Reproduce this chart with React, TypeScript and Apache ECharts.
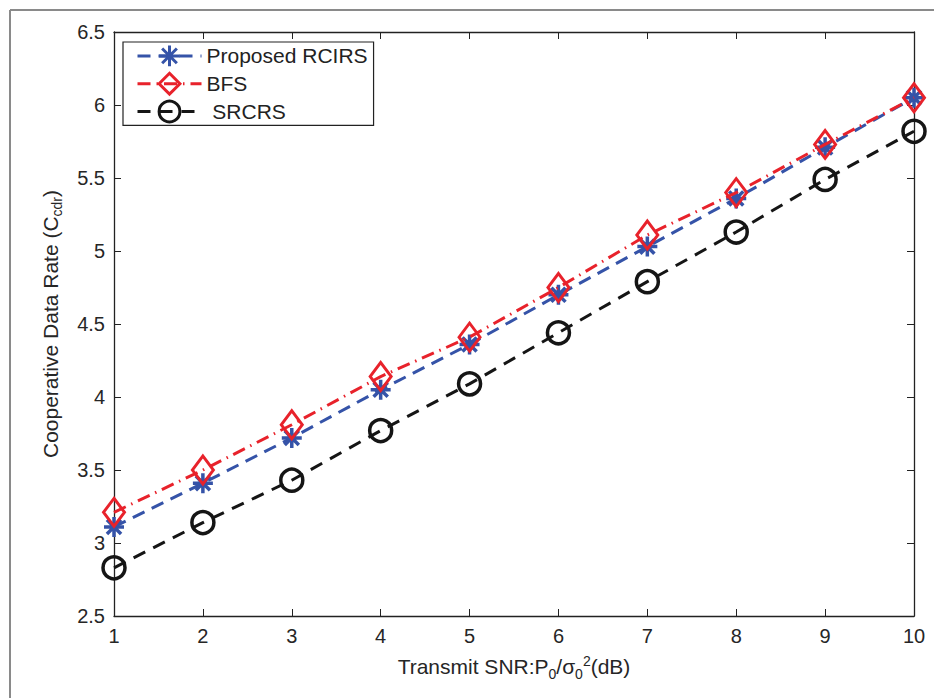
import React, { useEffect, useRef } from "react";
import * as echarts from "echarts";

const snr = ["1", "2", "3", "4", "5", "6", "7", "8", "9", "10"];
const proposed = [3.11, 3.41, 3.72, 4.05, 4.36, 4.7, 5.03, 5.36, 5.71, 6.05];
const bfs = [3.21, 3.5, 3.81, 4.14, 4.41, 4.75, 5.11, 5.4, 5.73, 6.05];
const srcrs = [2.83, 3.14, 3.43, 3.77, 4.09, 4.44, 4.79, 5.13, 5.49, 5.82];
const seriesNames = ["Proposed RCIRS", "BFS", " SRCRS"];

const FONT = "'Liberation Sans', Arial, Helvetica, sans-serif";
const BLUE = "#3553a8";
const RED = "#e8222b";
const BLACK = "#151515";
const STAR = "path://M0,-10L0,10M-10,0L10,0M-7.07,-7.07L7.07,7.07M-7.07,7.07L7.07,-7.07";

export default function App() {
  const ref = useRef<HTMLDivElement>(null);
  useEffect(() => {
    if (!ref.current) return;
    const chart = echarts.init(ref.current, null, { renderer: "svg" });
    const rich = {
      n: { fontSize: 21, fontFamily: FONT, color: "#262626", lineHeight: 32, verticalAlign: "middle" },
      sub: { fontSize: 14, fontFamily: FONT, color: "#262626", lineHeight: 32, verticalAlign: "bottom", padding: [0, 0, 2, 0] },
      sup: { fontSize: 14, fontFamily: FONT, color: "#262626", lineHeight: 32, verticalAlign: "top", padding: [3, 0, 0, 0] },
    };
    const tickLabel = { fontSize: 20, fontFamily: FONT, color: "#262626" };
    chart.setOption({
      animation: false,
      backgroundColor: "#ffffff",
      graphic: [
        { type: "line", shape: { x1: 10, y1: 10, x2: 934, y2: 10 }, style: { stroke: "#8a8a8a", lineWidth: 2 } },
        { type: "line", shape: { x1: 10, y1: 10, x2: 10, y2: 698 }, style: { stroke: "#8a8a8a", lineWidth: 2 } },
      ],
      grid: { left: 114, top: 32, right: 20, bottom: 82, containLabel: false },
      legend: {
        left: 123,
        top: 42,
        orient: "vertical",
        data: seriesNames,
        itemWidth: 64,
        itemHeight: 26,
        itemGap: 4,
        padding: [2, 6, 2, 13],
        backgroundColor: "#ffffff",
        borderColor: "#222",
        borderWidth: 1.2,
        borderRadius: 0,
        lineStyle: { width: 3 },
        itemStyle: { borderWidth: 3 },
        textStyle: { fontSize: 21, fontFamily: FONT, color: "#222" },
      },
      xAxis: [
        {
          type: "category",
          data: snr,
          boundaryGap: false,
          name: "{n|Transmit SNR:P}{sub|0}{n|/σ}{sub|0}{sup|2}{n|(dB)}",
          nameLocation: "middle",
          nameGap: 30,
          nameTextStyle: { rich },
          axisLine: { lineStyle: { color: "#222", width: 1.3 } },
          axisTick: { inside: true, length: 7, lineStyle: { color: "#222" } },
          axisLabel: { ...tickLabel, margin: 10 },
          splitLine: { show: false },
        },
        {
          type: "category",
          data: snr,
          boundaryGap: false,
          position: "top",
          axisLine: { lineStyle: { color: "#222", width: 1.3 } },
          axisTick: { inside: true, length: 7, lineStyle: { color: "#222" } },
          axisLabel: { show: false },
          splitLine: { show: false },
        },
      ],
      yAxis: [
        {
          type: "value",
          min: 2.5,
          max: 6.5,
          interval: 0.5,
          name: "{n|Cooperative Data Rate (C}{sub|cdr}{n|)}",
          nameLocation: "middle",
          nameGap: 36,
          nameTextStyle: { rich },
          axisLine: { show: true, lineStyle: { color: "#222", width: 1.3 } },
          axisTick: { show: true, inside: true, length: 7, lineStyle: { color: "#222" } },
          axisLabel: { ...tickLabel, margin: 9, formatter: (v: number) => String(v) },
          splitLine: { show: false },
        },
        {
          type: "value",
          min: 2.5,
          max: 6.5,
          interval: 0.5,
          position: "right",
          axisLine: { show: true, lineStyle: { color: "#222", width: 1.3 } },
          axisTick: { show: true, inside: true, length: 7, lineStyle: { color: "#222" } },
          axisLabel: { show: false },
          splitLine: { show: false },
        },
      ],
      series: [
        {
          name: seriesNames[0],
          type: "line",
          data: proposed,
          clip: false,
          symbol: STAR,
          symbolSize: 20,
          lineStyle: { color: BLUE, width: 3, type: [13, 8] },
          itemStyle: { color: BLUE, borderColor: BLUE, borderWidth: 3.5 },
          z: 3,
        },
        {
          name: seriesNames[1],
          type: "line",
          data: bfs,
          clip: false,
          symbol: "diamond",
          symbolSize: [21, 28],
          lineStyle: { color: RED, width: 3, type: [13, 6, 1.5, 6] },
          itemStyle: { color: "rgba(0,0,0,0)", borderColor: RED, borderWidth: 3 },
          z: 4,
        },
        {
          name: seriesNames[2],
          type: "line",
          data: srcrs,
          clip: false,
          symbol: "circle",
          symbolSize: 22,
          lineStyle: { color: BLACK, width: 3, type: [13, 9] },
          itemStyle: { color: "rgba(0,0,0,0)", borderColor: BLACK, borderWidth: 3.5 },
          z: 5,
        },
      ],
    });
    return () => chart.dispose();
  }, []);
  return (
    <div
      ref={ref}
      style={{ position: "fixed", left: 0, top: 0, width: 934, height: 698, background: "#fff" }}
    />
  );
}
